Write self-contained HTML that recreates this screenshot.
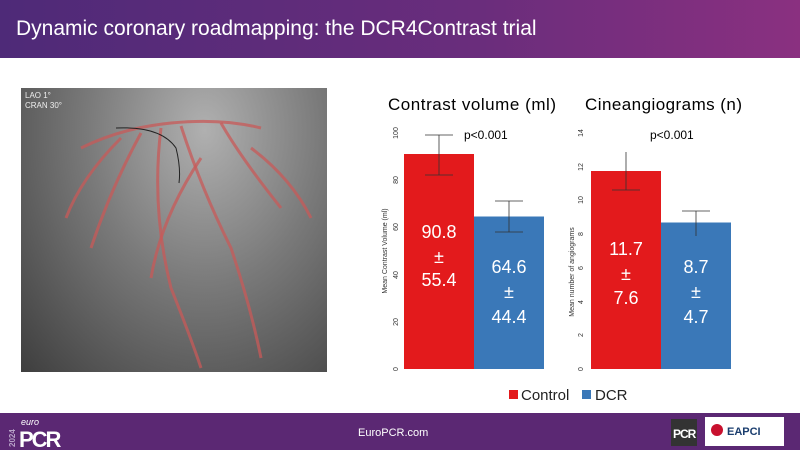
<!DOCTYPE html>
<html><head><style>
body{margin:0;width:800px;height:450px;overflow:hidden;background:#fff;font-family:"Liberation Sans",sans-serif;position:relative}
.hdr{position:absolute;left:0;top:0;width:800px;height:58px;background:linear-gradient(90deg,#4e2a78,#6a2d7c 60%,#8a3080)}
.hdr span{position:absolute;left:16px;top:17px;color:#fff;font-size:21px;font-family:"Liberation Sans Narrow","Liberation Sans",sans-serif}
.ftr{position:absolute;left:0;top:413px;width:800px;height:37px;background:#5b2873}
.img{position:absolute;left:21px;top:88px;width:306px;height:284px;background:radial-gradient(ellipse at 60% 15%,#b0b0b0,#7a7a7a 45%,#3e3e3e)}
</style></head><body>
<div class="hdr"><span>Dynamic coronary roadmapping: the DCR4Contrast trial</span></div>
<div class="img">
<svg width="306" height="284" style="position:absolute;left:0;top:0">
<g stroke="#c85a58" stroke-opacity="0.75" fill="none" stroke-width="3">
<path d="M60 60 Q100 40 150 35 Q200 30 240 40"/>
<path d="M140 40 Q130 120 150 200 Q170 250 180 280"/>
<path d="M160 38 Q180 100 210 160 Q230 220 240 270"/>
<path d="M200 35 Q220 70 260 120"/>
<path d="M120 45 Q90 100 70 160"/>
<path d="M100 50 Q60 90 45 130"/>
<path d="M180 70 Q140 130 130 190"/>
<path d="M230 60 Q270 90 290 130"/>
</g>
<path d="M95 40 Q140 38 155 60 Q160 80 158 95" stroke="#222" stroke-width="1" fill="none"/>
<text x="4" y="10" font-size="8" fill="#eee">LAO   1°</text>
<text x="4" y="20" font-size="8" fill="#eee">CRAN 30°</text>
</svg></div>
<svg width="800" height="450" style="position:absolute;left:0;top:0" font-family="Liberation Sans, sans-serif">
<text x="388" y="110" font-size="17" fill="#000" textLength="168">Contrast volume (ml)</text>
<text x="585" y="110" font-size="17" fill="#000" textLength="157">Cineangiograms (n)</text>
<!-- chart 1 -->
<g font-size="7" fill="#333">
<text transform="translate(398,133) rotate(-90)" text-anchor="middle">100</text>
<text transform="translate(398,180) rotate(-90)" text-anchor="middle">80</text>
<text transform="translate(398,227) rotate(-90)" text-anchor="middle">60</text>
<text transform="translate(398,275) rotate(-90)" text-anchor="middle">40</text>
<text transform="translate(398,322) rotate(-90)" text-anchor="middle">20</text>
<text transform="translate(398,369) rotate(-90)" text-anchor="middle">0</text>
<text transform="translate(387,251) rotate(-90)" text-anchor="middle">Mean Contrast Volume (ml)</text>
</g>
<rect x="404" y="154" width="70" height="215" fill="#e31a1c"/>
<rect x="474" y="216.5" width="70" height="152.5" fill="#3a78b8"/>
<g stroke="#333" stroke-width="0.8"><line x1="439" y1="135" x2="439" y2="175"/><line x1="425" y1="135" x2="453" y2="135"/><line x1="425" y1="175" x2="453" y2="175"/>
<line x1="509" y1="201" x2="509" y2="232"/><line x1="495" y1="201" x2="523" y2="201"/><line x1="495" y1="232" x2="523" y2="232"/></g>
<text x="464" y="139" font-size="12">p&lt;0.001</text>
<g fill="#fff" font-size="18" text-anchor="middle"><text x="439" y="238">90.8</text><text x="439" y="263">±</text><text x="439" y="286">55.4</text>
<text x="509" y="273">64.6</text><text x="509" y="298">±</text><text x="509" y="323">44.4</text></g>
<!-- chart 2 -->
<g font-size="7" fill="#333">
<text transform="translate(583,133) rotate(-90)" text-anchor="middle">14</text>
<text transform="translate(583,167) rotate(-90)" text-anchor="middle">12</text>
<text transform="translate(583,200) rotate(-90)" text-anchor="middle">10</text>
<text transform="translate(583,234) rotate(-90)" text-anchor="middle">8</text>
<text transform="translate(583,268) rotate(-90)" text-anchor="middle">6</text>
<text transform="translate(583,302) rotate(-90)" text-anchor="middle">4</text>
<text transform="translate(583,335) rotate(-90)" text-anchor="middle">2</text>
<text transform="translate(583,369) rotate(-90)" text-anchor="middle">0</text>
<text transform="translate(574,272) rotate(-90)" text-anchor="middle">Mean number of angiograms</text>
</g>
<rect x="591" y="171" width="70" height="198" fill="#e31a1c"/>
<rect x="661" y="222.5" width="70" height="146.5" fill="#3a78b8"/>
<g stroke="#333" stroke-width="0.8"><line x1="626" y1="152" x2="626" y2="190"/><line x1="612" y1="190" x2="640" y2="190"/>
<line x1="696" y1="211" x2="696" y2="236"/><line x1="682" y1="211" x2="710" y2="211"/></g>
<text x="650" y="139" font-size="12">p&lt;0.001</text>
<g fill="#fff" font-size="18" text-anchor="middle"><text x="626" y="255">11.7</text><text x="626" y="280">±</text><text x="626" y="304">7.6</text>
<text x="696" y="273">8.7</text><text x="696" y="298">±</text><text x="696" y="323">4.7</text></g>
<!-- legend -->
<rect x="509" y="390" width="9" height="9" fill="#e31a1c"/>
<text x="521" y="400" font-size="15" fill="#222">Control</text>
<rect x="582" y="390" width="9" height="9" fill="#3a78b8"/>
<text x="595" y="400" font-size="15" fill="#222">DCR</text>
</svg>
<div class="ftr">
<svg width="800" height="37" style="position:absolute;left:0;top:0" font-family="Liberation Sans, sans-serif">
<text transform="translate(15,34) rotate(-90)" font-size="8" fill="#b9a3c9" font-weight="bold">2024</text>
<text x="21" y="12" font-size="9" fill="#fff" font-style="italic">euro</text>
<text x="19" y="34" font-size="22" fill="#fff" font-weight="bold" letter-spacing="-2">PCR</text>
<text x="358" y="23" font-size="11" fill="#fff">EuroPCR.com</text>
<rect x="671" y="6" width="26" height="27" fill="#333"/>
<text x="673" y="25" font-size="12" fill="#fff" font-weight="bold" letter-spacing="-1">PCR</text>
<rect x="705" y="4" width="79" height="29" fill="#fff"/>
<circle cx="717" cy="17" r="6" fill="#c8102e"/>
<text x="727" y="22" font-size="11" fill="#1a3d6e" font-weight="bold">EAPCI</text>
</svg>
</div>
</body></html>
